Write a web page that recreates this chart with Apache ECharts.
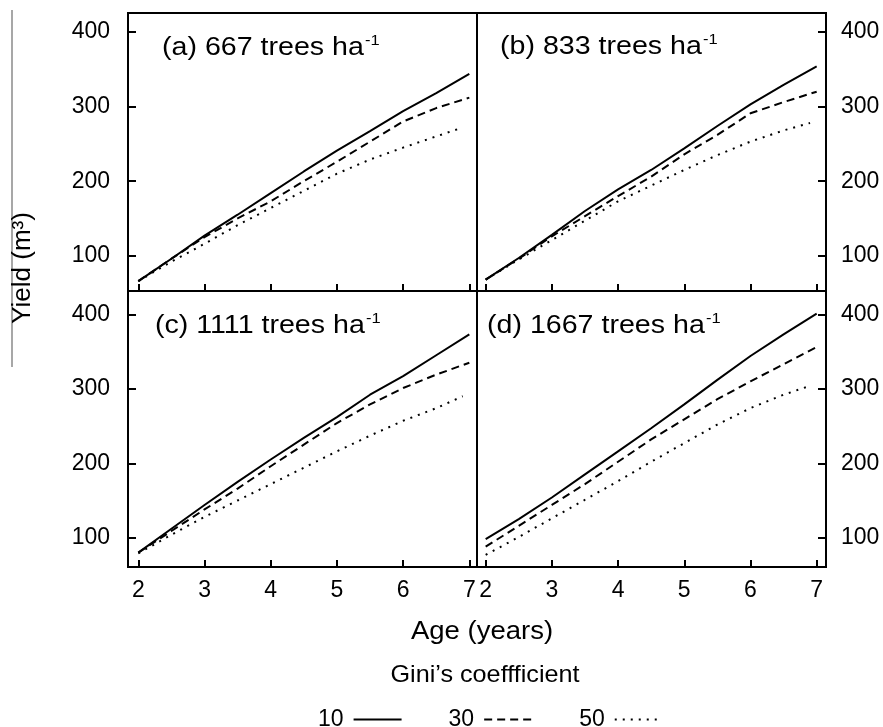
<!DOCTYPE html>
<html>
<head>
<meta charset="utf-8">
<script src="https://cdn.jsdelivr.net/npm/echarts@6/dist/echarts.min.js"></script>
<style>
  html, body { margin: 0; padding: 0; background: #fff; }
  #chart { width: 883px; height: 727px; }
</style>
</head>
<body>
<div id="chart"></div>
<script>
// stand age (years)
const ages = [2, 2.5, 3, 3.5, 4, 4.5, 5, 5.5, 6, 6.5, 7];
const agesDotted = [2, 2.5, 3, 3.5, 4, 4.5, 5, 5.5, 6, 6.5, 6.9];
const xTicks = [2, 3, 4, 5, 6, 7];
const yTicks = [100, 200, 300, 400];
const giniNames = ["10", "30", "50"];

// yield (m3), one array per Gini's coefficient
// (a) 667 trees ha-1
const a10 = [66, 96, 127, 155, 184, 213, 241, 267, 294, 318, 344];
const a30 = [66, 96, 125, 150, 173, 200, 226, 253, 280, 298, 312];
const a50 = [66, 92, 116, 141, 164, 187, 210, 229, 245, 260, 272];
// (b) 833 trees ha-1
const b10 = [68, 97, 128, 160, 189, 215, 244, 274, 303, 329, 354];
const b30 = [68, 96, 126, 153, 180, 206, 236, 262, 291, 306, 320];
const b50 = [68, 95, 121, 147, 173, 194, 215, 235, 253, 268, 278];
// (c) 1111 trees ha-1
const c10 = [80, 112, 144, 175, 205, 234, 262, 292, 317, 345, 373];
const c30 = [80, 109, 138, 166, 196, 225, 254, 279, 301, 319, 335];
const c50 = [79, 104, 128, 150, 172, 194, 216, 237, 257, 274, 290];
// (d) 1667 trees ha-1
const d10 = [98, 125, 154, 185, 216, 247, 279, 312, 344, 373, 401];
const d30 = [88, 116, 144, 172, 202, 232, 259, 286, 310, 333, 356];
const d50 = [77, 101, 126, 151, 176, 202, 227, 252, 274, 292, 304];

const panelLetters = ["(a)", "(b)", "(c)", "(d)"];
const panelDensity = ["667", "833", "1111", "1667"];

const panels = [
  [a10, a30, a50],
  [b10, b30, b50],
  [c10, c30, c50],
  [d10, d30, d50],
];

const FONT = "Liberation Sans";
const chart = echarts.init(document.getElementById("chart"));

const grids = [
  { left: 128, top: 13, width: 349, height: 278 },
  { left: 477, top: 13, width: 349, height: 278 },
  { left: 128, top: 291, width: 349, height: 276 },
  { left: 477, top: 291, width: 349, height: 276 },
].map(function (g) {
  return Object.assign({ show: true, borderColor: "#000", borderWidth: 2, containLabel: false }, g);
});

const xRange = [[1.844, 7.116], [1.869, 7.141], [1.844, 7.116], [1.869, 7.141]];
const yRange = [[52.7, 425.5], [52.7, 425.5], [60.7, 431.3], [60.7, 431.3]];

const xAxis = grids.map(function (g, i) {
  return {
    type: "value",
    gridIndex: i,
    min: xRange[i][0],
    max: xRange[i][1],
    splitLine: { show: false },
    axisLine: { show: true, onZero: false, lineStyle: { color: "#000", width: 2 } },
    axisTick: { show: true, inside: true, length: 7, customValues: xTicks, lineStyle: { color: "#000", width: 2 } },
    axisLabel: {
      show: i >= 2,
      customValues: xTicks,
      color: "#000",
      fontFamily: FONT,
      fontSize: 23,
      margin: 12,
    },
  };
});

const yAxis = grids.map(function (g, i) {
  return {
    type: "value",
    gridIndex: i,
    position: i % 2 === 0 ? "left" : "right",
    min: yRange[i][0],
    max: yRange[i][1],
    splitLine: { show: false },
    axisLine: { show: true, onZero: false, lineStyle: { color: "#000", width: 2 } },
    axisTick: { show: true, inside: true, length: 8, customValues: yTicks, lineStyle: { color: "#000", width: 2 } },
    axisLabel: {
      customValues: yTicks,
      color: "#000",
      fontFamily: FONT,
      fontSize: 23,
      margin: i % 2 === 0 ? 18 : 15,
    },
  };
});

const lineTypes = ["solid", [8, 5], [2, 6]];
const series = [];
panels.forEach(function (p, i) {
  p.forEach(function (vals, k) {
    const xs = k === 2 ? agesDotted : ages;
    series.push({
      name: giniNames[k],
      type: "line",
      xAxisIndex: i,
      yAxisIndex: i,
      symbol: "none",
      data: vals.map(function (v, j) { return [xs[j], v]; }),
      lineStyle: { color: "#000", width: 2, type: lineTypes[k] },
      itemStyle: { color: "#000" },
      silent: true,
    });
  });
});

const labelPos = [[162, 48], [500, 47], [155, 326], [487, 326]];
const graphic = labelPos.map(function (pos, i) {
  return {
    type: "text",
    x: pos[0],
    y: pos[1],
    scaleX: 1.1,
    style: {
      text: "{t|" + panelLetters[i] + " " + panelDensity[i] + " trees ha}{s|-1}",
      verticalAlign: "middle",
      rich: {
        t: { fontFamily: FONT, fontSize: 26, fill: "#000", lineHeight: 30 },
        s: { fontFamily: FONT, fontSize: 15, fill: "#000", lineHeight: 30, verticalAlign: "top", padding: [0, 0, 0, 1] },
      },
    },
  };
});
graphic.push(
  {
    type: "line",
    shape: { x1: 12, y1: 10, x2: 12, y2: 367 },
    style: { stroke: "#8a8a8a", lineWidth: 1.5 },
  },
  {
    type: "text",
    x: 23,
    y: 268,
    rotation: Math.PI / 2,
    style: {
      text: "Yield (m³)",
      fontFamily: FONT,
      fontSize: 26,
      fill: "#000",
      align: "center",
      verticalAlign: "middle",
    },
  },
  {
    type: "text",
    x: 482,
    y: 632,
    scaleX: 1.1,
    style: {
      text: "Age (years)",
      fontFamily: FONT,
      fontSize: 25,
      fill: "#000",
      align: "center",
      verticalAlign: "middle",
    },
  },
  {
    type: "text",
    x: 485,
    y: 675,
    scaleX: 1.05,
    style: {
      text: "Gini’s coeffficient",
      fontFamily: FONT,
      fontSize: 24,
      fill: "#000",
      align: "center",
      verticalAlign: "middle",
    },
  }
);

chart.setOption({
  backgroundColor: "#fff",
  animation: false,
  grid: grids,
  xAxis: xAxis,
  yAxis: yAxis,
  legend: {
    data: giniNames,
    left: 313,
    top: 703,
    align: "right",
    itemWidth: 48,
    itemHeight: 14,
    itemGap: 46,
    selectedMode: false,
    itemStyle: { opacity: 0 },
    textStyle: { fontFamily: FONT, fontSize: 23, color: "#000", padding: [0, 5, 0, 0] },
  },
  graphic: graphic,
  series: series,
});
</script>
</body>
</html>
